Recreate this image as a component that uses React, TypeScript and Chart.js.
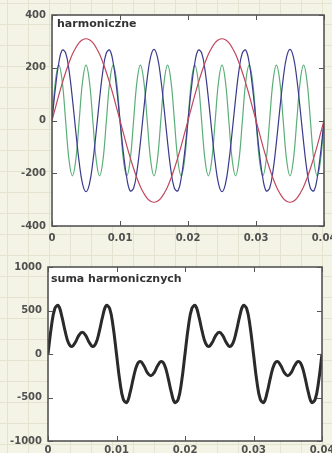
import React, { useEffect, useRef } from 'react';
import { Chart, registerables } from 'chart.js';
Chart.register(...registerables);

// time samples [s]
const times = [
  0, 0.0005, 0.001, 0.0015, 0.002, 0.0025, 0.003, 0.0035, 0.004, 0.0045,
  0.005, 0.0055, 0.006, 0.0065, 0.007, 0.0075, 0.008, 0.0085, 0.009, 0.0095,
  0.01, 0.0105, 0.011, 0.0115, 0.012, 0.0125, 0.013, 0.0135, 0.014, 0.0145,
  0.015, 0.0155, 0.016, 0.0165, 0.017, 0.0175, 0.018, 0.0185, 0.019, 0.0195,
  0.02, 0.0205, 0.021, 0.0215, 0.022, 0.0225, 0.023, 0.0235, 0.024, 0.0245,
  0.025, 0.0255, 0.026, 0.0265, 0.027, 0.0275, 0.028, 0.0285, 0.029, 0.0295,
  0.03, 0.0305, 0.031, 0.0315, 0.032, 0.0325, 0.033, 0.0335, 0.034, 0.0345,
  0.035, 0.0355, 0.036, 0.0365, 0.037, 0.0375, 0.038, 0.0385, 0.039, 0.0395,
  0.04,
];

// 1st harmonic (red)
const harmonic1 = [
  0, 48, 96, 141, 182, 219, 251, 276, 295, 306, 310, 306, 295, 276, 251, 219, 182, 141, 96, 48,
  0, -48, -96, -141, -182, -219, -251, -276, -295, -306, -310, -306, -295, -276, -251, -219, -182, -141, -96, -48,
  0, 48, 96, 141, 182, 219, 251, 276, 295, 306, 310, 306, 295, 276, 251, 219, 182, 141, 96, 48,
  0, -48, -96, -141, -182, -219, -251, -276, -295, -306, -310, -306, -295, -276, -251, -219, -182, -141, -96, -48,
  0,
];

// 3rd harmonic (blue)
const harmonic3 = [
  0, 123, 218, 267, 257, 191, 83, -42, -159, -241, -270, -241, -159, -42, 83, 191, 257, 267, 218, 123,
  0, -123, -218, -267, -257, -191, -83, 42, 159, 241, 270, 241, 159, 42, -83, -191, -257, -267, -218, -123,
  0, 123, 218, 267, 257, 191, 83, -42, -159, -241, -270, -241, -159, -42, 83, 191, 257, 267, 218, 123,
  0, -123, -218, -267, -257, -191, -83, 42, 159, 241, 270, 241, 159, 42, -83, -191, -257, -267, -218, -123,
  0,
];

// 5th harmonic (green)
const harmonic5 = [
  0, 149, 210, 149, 0, -149, -210, -149, 0, 149, 210, 149, 0, -149, -210, -149, 0, 149, 210, 149,
  0, -149, -210, -149, 0, 149, 210, 149, 0, -149, -210, -149, 0, 149, 210, 149, 0, -149, -210, -149,
  0, 149, 210, 149, 0, -149, -210, -149, 0, 149, 210, 149, 0, -149, -210, -149, 0, 149, 210, 149,
  0, -149, -210, -149, 0, 149, 210, 149, 0, -149, -210, -149, 0, 149, 210, 149, 0, -149, -210, -149,
  0,
];

// sum of harmonics (black)
const harmonicSum = [
  0, 320, 524, 556, 439, 262, 124, 86, 136, 214, 250, 214, 136, 86, 124, 262, 439, 556, 524, 320,
  0, -320, -524, -556, -439, -262, -124, -86, -136, -214, -250, -214, -136, -86, -124, -262, -439, -556, -524, -320,
  0, 320, 524, 556, 439, 262, 124, 86, 136, 214, 250, 214, 136, 86, 124, 262, 439, 556, 524, 320,
  0, -320, -524, -556, -439, -262, -124, -86, -136, -214, -250, -214, -136, -86, -124, -262, -439, -556, -524, -320,
  0,
];

const xTickValues = [0, 0.01, 0.02, 0.03, 0.04];
const xTickLabels = ['0', '0.01', '0.02', '0.03', '0.04'];
const topYTicks = [400, 200, 0, -200, -400];
const bottomYTicks = [1000, 500, 0, -500, -1000];
const topTitle = 'harmoniczne';
const bottomTitle = 'suma harmonicznych';

const toXY = (vals: number[]) => times.map((t, i) => ({ x: t, y: vals[i] }));

const TICK_FONT = { family: '"DejaVu Sans", Verdana, sans-serif', size: 10, weight: 'bold' as const };
const TICK_COLOR = '#505050';

function makeFramePlugin(yTicks: number[], title: string, tdx: number, tdy: number) {
  return {
    id: 'frame',
    beforeDraw(chart: any) {
      const { ctx, chartArea: a } = chart;
      ctx.save();
      ctx.fillStyle = '#ffffff';
      ctx.fillRect(a.left, a.top, a.right - a.left, a.bottom - a.top);
      ctx.restore();
    },
    afterDraw(chart: any) {
      const { ctx, chartArea: a, scales } = chart;
      ctx.save();
      ctx.strokeStyle = '#4a4a4a';
      ctx.lineWidth = 1.5;
      ctx.strokeRect(a.left, a.top, a.right - a.left, a.bottom - a.top);
      ctx.lineWidth = 1;
      ctx.strokeStyle = '#555555';
      ctx.beginPath();
      for (const v of xTickValues) {
        const px = Math.round(scales.x.getPixelForValue(v)) + 0.5;
        ctx.moveTo(px, a.top);
        ctx.lineTo(px, a.top + 5);
        ctx.moveTo(px, a.bottom);
        ctx.lineTo(px, a.bottom - 5);
      }
      for (const v of yTicks) {
        const py = Math.round(scales.y.getPixelForValue(v)) + 0.5;
        ctx.moveTo(a.left, py);
        ctx.lineTo(a.left + 5, py);
        ctx.moveTo(a.right, py);
        ctx.lineTo(a.right - 5, py);
      }
      ctx.stroke();
      ctx.font = 'bold 11px "DejaVu Sans", Verdana, sans-serif';
      ctx.fillStyle = '#333333';
      ctx.textBaseline = 'alphabetic';
      ctx.textAlign = 'left';
      ctx.fillText(title, a.left + tdx, a.top + tdy);
      ctx.restore();
    },
  };
}

function buildConfig(opts: {
  datasets: any[];
  yTicks: number[];
  ymin: number;
  ymax: number;
  padTop: number;
  padRight: number;
  yWidth: number;
  xHeight: number;
  xPad: number;
  title: string;
  tdx: number;
  tdy: number;
}) {
  return {
    type: 'line' as const,
    data: { datasets: opts.datasets },
    options: {
      responsive: false,
      animation: false as const,
      devicePixelRatio: 1,
      layout: { padding: { top: opts.padTop, right: opts.padRight, left: 0, bottom: 0 } },
      plugins: { legend: { display: false }, tooltip: { enabled: false } },
      elements: { point: { radius: 0 }, line: { tension: 0.4 } },
      scales: {
        x: {
          type: 'linear' as const,
          min: 0,
          max: 0.04,
          grid: { display: false, drawTicks: false },
          border: { display: false },
          afterBuildTicks: (s: any) => {
            s.ticks = xTickValues.map((v) => ({ value: v }));
          },
          afterFit: (s: any) => {
            s.height = opts.xHeight;
          },
          ticks: {
            font: TICK_FONT,
            color: TICK_COLOR,
            padding: opts.xPad,
            maxRotation: 0,
            autoSkip: false,
            callback: (v: any) => xTickLabels[xTickValues.indexOf(Math.round(v * 100) / 100)] ?? '',
          },
        },
        y: {
          type: 'linear' as const,
          min: opts.ymin,
          max: opts.ymax,
          grid: { display: false, drawTicks: false },
          border: { display: false },
          afterBuildTicks: (s: any) => {
            s.ticks = opts.yTicks.map((v) => ({ value: v }));
          },
          afterFit: (s: any) => {
            s.width = opts.yWidth;
          },
          ticks: {
            font: TICK_FONT,
            color: TICK_COLOR,
            padding: 6,
            autoSkip: false,
            callback: (v: any) => String(v),
          },
        },
      },
    },
    plugins: [makeFramePlugin(opts.yTicks, opts.title, opts.tdx, opts.tdy)],
  };
}

function ChartCanvas({ config, width, height, top }: { config: any; width: number; height: number; top: number }) {
  const ref = useRef<HTMLCanvasElement | null>(null);
  useEffect(() => {
    if (!ref.current) return;
    const chart = new Chart(ref.current, config);
    return () => chart.destroy();
  }, []);
  return (
    <canvas
      ref={ref}
      width={width}
      height={height}
      style={{ position: 'absolute', left: 0, top, width, height, display: 'block' }}
    />
  );
}

export default function App() {
  const topConfig = buildConfig({
    datasets: [
      { data: toXY(harmonic1), borderColor: '#c2475e', borderWidth: 1.2, fill: false },
      { data: toXY(harmonic3), borderColor: '#3b3b8e', borderWidth: 1.2, fill: false },
      { data: toXY(harmonic5), borderColor: '#5aae78', borderWidth: 1.2, fill: false },
    ],
    yTicks: topYTicks,
    ymin: -400,
    ymax: 400,
    padTop: 15,
    padRight: 26,
    yWidth: 52,
    xHeight: 24,
    xPad: 6,
    title: topTitle,
    tdx: 5,
    tdy: 12,
  });
  const bottomConfig = buildConfig({
    datasets: [{ data: toXY(harmonicSum), borderColor: '#2a2a2a', borderWidth: 3, fill: false }],
    yTicks: bottomYTicks,
    ymin: -1000,
    ymax: 1000,
    padTop: 17,
    padRight: 28,
    yWidth: 48,
    xHeight: 12,
    xPad: 3,
    title: bottomTitle,
    tdx: 3,
    tdy: 15,
  });
  return (
    <div
      style={{
        position: 'fixed',
        left: 0,
        top: 0,
        width: 332,
        height: 453,
        overflow: 'hidden',
        backgroundColor: '#f4f4e6',
        backgroundImage:
          'linear-gradient(to right, #e3e3d0 1px, transparent 1px), linear-gradient(to bottom, #e3e3d0 1px, transparent 1px)',
        backgroundSize: '21px 21px',
        backgroundPosition: '7px 3px',
      }}
    >
      <ChartCanvas config={topConfig} width={350} height={250} top={0} />
      <ChartCanvas config={bottomConfig} width={350} height={203} top={250} />
    </div>
  );
}
